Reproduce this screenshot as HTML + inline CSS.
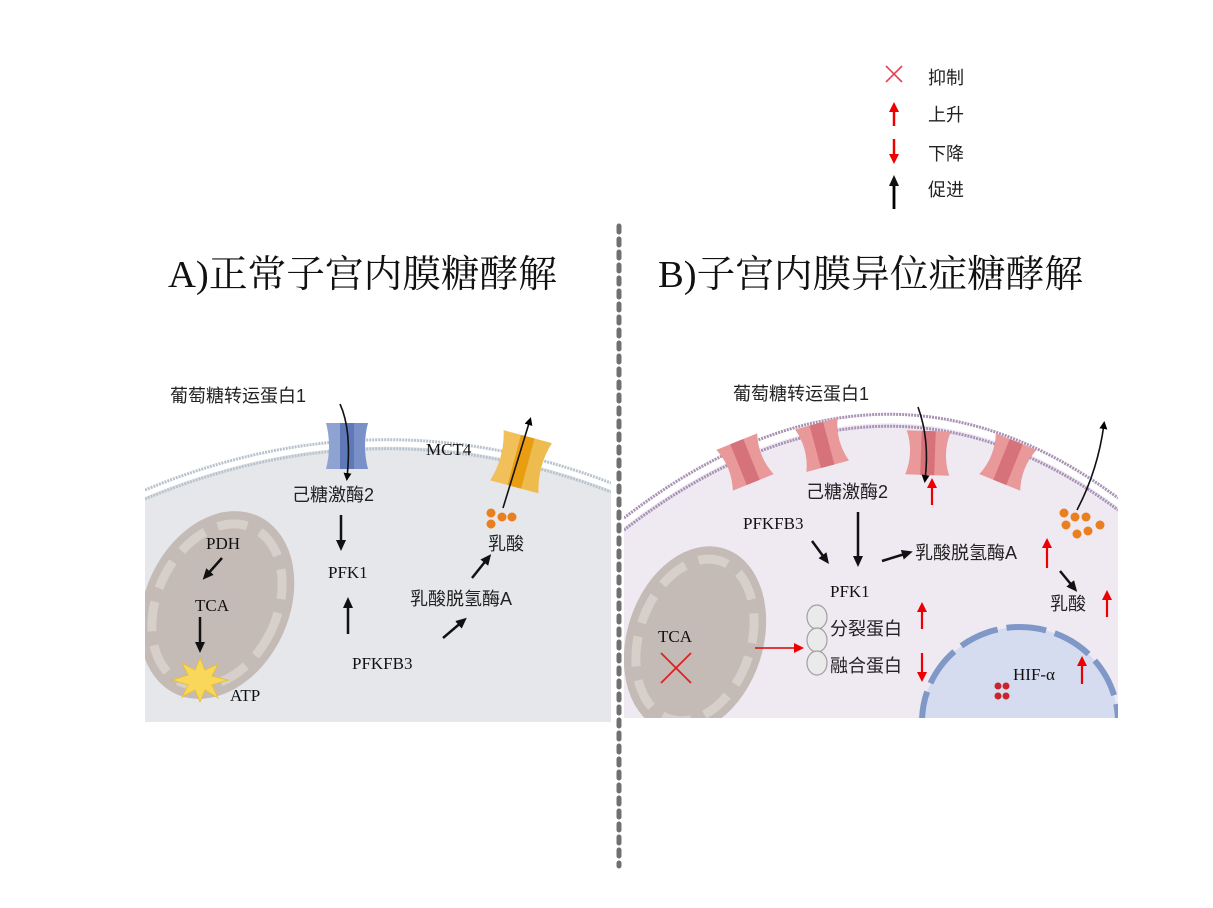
<!DOCTYPE html>
<html><head><meta charset="utf-8"><style>
html,body{margin:0;padding:0;background:#fff;}
svg{display:block;}
.s{font-family:"Liberation Sans","Noto Sans CJK SC",sans-serif;fill:#222;}
.r{font-family:"Liberation Serif","Noto Serif CJK SC",serif;fill:#111;}
</style></head><body>
<svg width="1213" height="908" viewBox="0 0 1213 908" xmlns="http://www.w3.org/2000/svg">
<defs>
<marker id="ak" markerWidth="8" markerHeight="8" refX="5" refY="4" orient="auto" markerUnits="userSpaceOnUse"><path d="M0,0 L8,4 L0,8 z" fill="#000"/></marker>
<marker id="ar" markerWidth="10" markerHeight="10" refX="6" refY="5" orient="auto" markerUnits="userSpaceOnUse"><path d="M0,0 L10,5 L0,10 z" fill="#e00"/></marker>
<marker id="am" markerWidth="11" markerHeight="10" refX="6" refY="5" orient="auto" markerUnits="userSpaceOnUse"><path d="M0,0 L11,5 L0,10 z" fill="#111"/></marker>
<clipPath id="ca"><rect x="145" y="380" width="466" height="342"/></clipPath>
<clipPath id="cb"><rect x="624" y="380" width="494" height="338"/></clipPath>
</defs>

<!-- legend -->
<g stroke="#e84050" stroke-width="1.6"><line x1="886" y1="66" x2="902" y2="82"/><line x1="902" y1="66" x2="886" y2="82"/></g>
<text x="928" y="84" class="s" font-size="18">抑制</text>
<line x1="894" y1="126" x2="894" y2="106" stroke="#e00" stroke-width="2.5" marker-end="url(#ar)"/>
<text x="928" y="121" class="s" font-size="18">上升</text>
<line x1="894" y1="139" x2="894" y2="160" stroke="#e00" stroke-width="2.5" marker-end="url(#ar)"/>
<text x="928" y="160" class="s" font-size="18">下降</text>
<line x1="894" y1="209" x2="894" y2="180" stroke="#000" stroke-width="2.8" marker-end="url(#am)"/>
<text x="928" y="196" class="s" font-size="18">促进</text>

<!-- divider -->
<line x1="619" y1="226" x2="619" y2="866" stroke="#707070" stroke-width="5" stroke-dasharray="6,7" stroke-linecap="round"/>

<!-- titles -->
<text x="168" y="287" class="r" font-size="38" textLength="389" lengthAdjust="spacingAndGlyphs">A)正常子宫内膜糖酵解</text>
<text x="658" y="287" class="r" font-size="38" textLength="425" lengthAdjust="spacingAndGlyphs">B)子宫内膜异位症糖酵解</text>

<!-- Panel A -->
<g clip-path="url(#ca)">
<path d="M145,497 Q378,400 611,490 L611,722 L145,722 z" fill="#e5e7ea"/>
<path d="M145,490 Q378,393 611,483" fill="none" stroke="#b9c3cd" stroke-width="3" stroke-dasharray="2,1"/>
<path d="M145,499 Q378,402 611,492" fill="none" stroke="#b9c3cd" stroke-width="3" stroke-dasharray="2,1"/>
<g transform="translate(217,605) rotate(25)">
<ellipse rx="72" ry="98" fill="#c4bbb6"/>
<ellipse rx="60" ry="85" fill="none" stroke="#d6cfca" stroke-width="9" stroke-dasharray="30,14"/>
</g>
</g>
<!-- blue transporter -->
<path d="M326,423 h20 v46 h-20 q6,-23 0,-46z" fill="#8fa3d3"/>
<path d="M346,423 h22 q-6,23 0,46 h-22z" fill="#7990c8"/>
<rect x="340" y="423" width="14" height="46" fill="#5f78b8"/>
<!-- orange MCT4 -->
<g transform="translate(522,462) rotate(15)">
<path d="M-26,-26 h24 v52 h-24 q8,-26 0,-52z" fill="#f2c05a"/>
<path d="M-2,-26 h26 q-8,26 0,52 h-26z" fill="#eebb4f"/>
<rect x="-8" y="-26" width="14" height="52" fill="#e99d10"/>
</g>
<text x="170" y="402" class="s" font-size="18">葡萄糖转运蛋白1</text>
<path d="M340,404 Q352,430 347,478" fill="none" stroke="#111" stroke-width="1.6" marker-end="url(#ak)"/>
<text x="292" y="501" class="s" font-size="18">己糖激酶2</text>
<line x1="341" y1="515" x2="341" y2="546" stroke="#111" stroke-width="2.5" marker-end="url(#am)"/>
<text x="328" y="578" class="r" font-size="17">PFK1</text>
<line x1="348" y1="634" x2="348" y2="602" stroke="#111" stroke-width="2.5" marker-end="url(#am)"/>
<text x="352" y="669" class="r" font-size="17">PFKFB3</text>
<line x1="443" y1="638" x2="463" y2="621" stroke="#111" stroke-width="2.5" marker-end="url(#am)"/>
<text x="410" y="605" class="s" font-size="18">乳酸脱氢酶A</text>
<line x1="472" y1="578" x2="488" y2="558" stroke="#111" stroke-width="2.5" marker-end="url(#am)"/>
<text x="488" y="550" class="s" font-size="18">乳酸</text>
<g fill="#e97f1e"><circle cx="491" cy="513" r="4.5"/><circle cx="491" cy="524" r="4.5"/><circle cx="502" cy="517" r="4.5"/><circle cx="512" cy="517" r="4.5"/></g>
<line x1="503" y1="508" x2="530" y2="420" stroke="#111" stroke-width="1.6" marker-end="url(#ak)"/>
<text x="426" y="455" class="r" font-size="17">MCT4</text>
<text x="206" y="549" class="r" font-size="17">PDH</text>
<line x1="222" y1="558" x2="206" y2="576" stroke="#111" stroke-width="2.5" marker-end="url(#am)"/>
<text x="195" y="611" class="r" font-size="17">TCA</text>
<line x1="200" y1="617" x2="200" y2="648" stroke="#111" stroke-width="2.5" marker-end="url(#am)"/>
<polygon points="200,658 205,670 218,664 212,676 228,680 212,685 218,698 205,690 200,702 195,690 182,697 188,685 172,680 188,675 182,663 195,670" fill="#f8d75a" stroke="#e8bb30" stroke-width="0.8"/>
<text x="230" y="701" class="r" font-size="17">ATP</text>

<!-- Panel B -->
<g clip-path="url(#cb)">
<path d="M624,527 Q880,330 1118,507 L1118,718 L624,718 z" fill="#efe9f2"/>
<path d="M624,518 Q880,321 1118,498" fill="none" stroke="#a892b5" stroke-width="3" stroke-dasharray="2,1"/>
<path d="M624,530 Q880,333 1118,510" fill="none" stroke="#a892b5" stroke-width="3" stroke-dasharray="2,1"/>
<g transform="translate(695,640) rotate(18)">
<ellipse rx="68" ry="96" fill="#c4bbb6"/>
<ellipse rx="56" ry="83" fill="none" stroke="#d6cfca" stroke-width="9" stroke-dasharray="30,14"/>
</g>
<ellipse cx="1020" cy="722" rx="98" ry="95" fill="#d6dcf0" stroke="#7f98c8" stroke-width="6" stroke-dasharray="40,9"/>
</g>
<!-- pink transporters -->
<g transform="translate(745,462) rotate(-22)"><path d="M-22,-22 h44 q-8,22 0,44 h-44 q8,-22 0,-44z" fill="#e9999a"/><rect x="-7" y="-22" width="14" height="44" fill="#d6727a"/></g>
<g transform="translate(822,445) rotate(-15)"><path d="M-22,-22 h44 q-8,22 0,44 h-44 q8,-22 0,-44z" fill="#e9999a"/><rect x="-7" y="-22" width="14" height="44" fill="#d6727a"/></g>
<g transform="translate(928,453) rotate(2)"><path d="M-22,-22 h44 q-8,22 0,44 h-44 q8,-22 0,-44z" fill="#e9999a"/><rect x="-7" y="-22" width="14" height="44" fill="#d6727a"/></g>
<g transform="translate(1008,462) rotate(22)"><path d="M-22,-22 h44 q-8,22 0,44 h-44 q8,-22 0,-44z" fill="#e9999a"/><rect x="-7" y="-22" width="14" height="44" fill="#d6727a"/></g>
<text x="733" y="400" class="s" font-size="18">葡萄糖转运蛋白1</text>
<path d="M918,407 Q930,440 925,480" fill="none" stroke="#111" stroke-width="1.6" marker-end="url(#ak)"/>
<line x1="932" y1="505" x2="932" y2="482" stroke="#e00" stroke-width="2.2" marker-end="url(#ar)"/>
<text x="806" y="498" class="s" font-size="18">己糖激酶2</text>
<text x="743" y="529" class="r" font-size="17">PFKFB3</text>
<line x1="812" y1="541" x2="826" y2="560" stroke="#111" stroke-width="2.5" marker-end="url(#am)"/>
<line x1="858" y1="512" x2="858" y2="562" stroke="#111" stroke-width="2.5" marker-end="url(#am)"/>
<line x1="882" y1="561" x2="908" y2="553" stroke="#111" stroke-width="2.5" marker-end="url(#am)"/>
<text x="915" y="559" class="s" font-size="18">乳酸脱氢酶A</text>
<line x1="1047" y1="568" x2="1047" y2="542" stroke="#e00" stroke-width="2.2" marker-end="url(#ar)"/>
<line x1="1060" y1="571" x2="1074" y2="588" stroke="#111" stroke-width="2.5" marker-end="url(#am)"/>
<text x="1050" y="610" class="s" font-size="18">乳酸</text>
<line x1="1107" y1="617" x2="1107" y2="594" stroke="#e00" stroke-width="2.2" marker-end="url(#ar)"/>
<text x="830" y="597" class="r" font-size="17">PFK1</text>
<g fill="#eaeaea" stroke="#a0a0a0" stroke-width="1.2"><ellipse cx="817" cy="617" rx="10" ry="12"/><ellipse cx="817" cy="640" rx="10" ry="12"/><ellipse cx="817" cy="663" rx="10" ry="12"/></g>
<text x="830" y="635" class="s" font-size="18">分裂蛋白</text>
<line x1="922" y1="629" x2="922" y2="606" stroke="#e00" stroke-width="2.2" marker-end="url(#ar)"/>
<text x="830" y="672" class="s" font-size="18">融合蛋白</text>
<line x1="922" y1="653" x2="922" y2="678" stroke="#e00" stroke-width="2.2" marker-end="url(#ar)"/>
<text x="658" y="642" class="r" font-size="17">TCA</text>
<g stroke="#e02020" stroke-width="1.8"><line x1="661" y1="653" x2="691" y2="683"/><line x1="691" y1="653" x2="661" y2="683"/></g>
<line x1="755" y1="648" x2="800" y2="648" stroke="#e02020" stroke-width="1.8" marker-end="url(#ar)"/>
<text x="1013" y="680" class="r" font-size="17">HIF-α</text>
<line x1="1082" y1="684" x2="1082" y2="660" stroke="#e00" stroke-width="2.2" marker-end="url(#ar)"/>
<g fill="#c8262a"><circle cx="998" cy="686" r="3.5"/><circle cx="1006" cy="686" r="3.5"/><circle cx="998" cy="696" r="3.5"/><circle cx="1006" cy="696" r="3.5"/></g>
<g fill="#e97f1e"><circle cx="1064" cy="513" r="4.5"/><circle cx="1075" cy="517" r="4.5"/><circle cx="1086" cy="517" r="4.5"/><circle cx="1066" cy="525" r="4.5"/><circle cx="1077" cy="534" r="4.5"/><circle cx="1088" cy="531" r="4.5"/><circle cx="1100" cy="525" r="4.5"/></g>
<path d="M1077,510 Q1098,470 1104,424" fill="none" stroke="#111" stroke-width="1.6" marker-end="url(#ak)"/>
</svg>
</body></html>
